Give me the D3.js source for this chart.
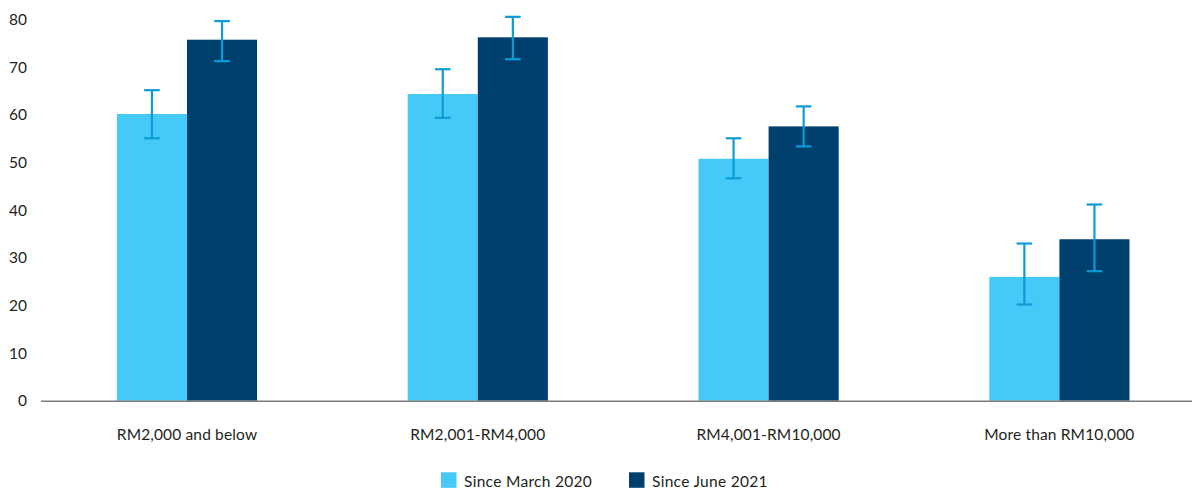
<!DOCTYPE html>
<html>
<head>
<meta charset="utf-8">
<script src="https://cdn.jsdelivr.net/npm/d3@7"></script>
<style>
  html, body { margin: 0; padding: 0; background: #fff; }
  svg { display: block; font-family: Lato, "Noto Sans", sans-serif; }
</style>
</head>
<body>
<svg id="chart" width="1192" height="490"></svg>
<script>
const categories = ["RM2,000 and below", "RM2,001-RM4,000", "RM4,001-RM10,000", "More than RM10,000"];
const seriesNames = ["Since March 2020", "Since June 2021"];
const march2020 = [60.2, 64.4, 50.8, 26.0];
const june2021 = [75.8, 76.3, 57.6, 33.9];
const march2020Low = [55.1, 59.4, 46.7, 20.2];
const march2020High = [65.2, 69.6, 55.1, 33.0];
const june2021Low = [71.3, 71.7, 53.4, 27.2];
const june2021High = [79.7, 80.6, 61.8, 41.2];
const yTicks = [0, 10, 20, 30, 40, 50, 60, 70, 80];
const colors = ["#45c9f6", "#00406f"];
const errColor = "#0b9bd7";

const svg = d3.select("#chart");
const W = 1192;
const y = d3.scaleLinear().domain([0, 80]).range([400.7, 19.7]);
const x0 = d3.scaleBand().domain(categories).range([41.6, 1204.8]).paddingInner(0.518).paddingOuter(0.259);
const x1 = d3.scaleBand().domain(seriesNames).range([0, x0.bandwidth()]);

const values = [march2020, june2021];
const lows = [march2020Low, june2021Low];
const highs = [march2020High, june2021High];

const rows = [];
categories.forEach((c, i) => {
  seriesNames.forEach((s, j) => {
    rows.push({ c, s, j, v: values[j][i], lo: lows[j][i], hi: highs[j][i] });
  });
});

// bars
svg.append("g").selectAll("rect").data(rows).join("rect")
  .attr("x", d => x0(d.c) + x1(d.s))
  .attr("y", d => y(d.v))
  .attr("width", x1.bandwidth())
  .attr("height", d => y(0) - y(d.v))
  .attr("fill", d => colors[d.j]);

// error bars
const eg = svg.append("g").attr("stroke", errColor).attr("stroke-width", 2.2).attr("fill", "none");
rows.forEach(d => {
  const cx = x0(d.c) + x1(d.s) + x1.bandwidth() / 2;
  eg.append("line").attr("x1", cx).attr("x2", cx).attr("y1", y(d.hi)).attr("y2", y(d.lo));
  eg.append("line").attr("x1", cx - 7.8).attr("x2", cx + 7.8).attr("y1", y(d.hi)).attr("y2", y(d.hi));
  eg.append("line").attr("x1", cx - 7.8).attr("x2", cx + 7.8).attr("y1", y(d.lo)).attr("y2", y(d.lo));
});

// y axis labels
const yAxis = d3.axisLeft(y).tickValues(yTicks).tickSize(0).tickPadding(0);
const yg = svg.append("g").attr("transform", "translate(27,0)").call(yAxis);
yg.select(".domain").remove();
yg.selectAll("text").attr("font-size", 15.5).attr("fill", "#231f20").attr("font-family", "Lato, sans-serif");

// x axis baseline
svg.append("line").attr("x1", 41).attr("x2", W).attr("y1", y(0) + 0.5).attr("y2", y(0) + 0.5)
  .attr("stroke", "#7a7a7a").attr("stroke-width", 1.5);

// category labels
const xAxis = d3.axisBottom(x0).tickSize(0).tickPadding(0);
const xg = svg.append("g").attr("transform", "translate(0,429)").call(xAxis);
xg.select(".domain").remove();
xg.selectAll("text").attr("font-size", 15.5).attr("letter-spacing", 0.15).attr("fill", "#231f20").attr("font-family", "Lato, sans-serif");

// legend
const legendX = [441, 629];
const lg = svg.append("g");
seriesNames.forEach((s, j) => {
  lg.append("rect").attr("x", legendX[j]).attr("y", 472.3).attr("width", 15.5).attr("height", 15.5).attr("fill", colors[j]);
  lg.append("text").attr("x", legendX[j] + 23).attr("y", 486.5).attr("font-size", 15.5).attr("letter-spacing", 0.3).attr("fill", "#231f20").text(s);
});
</script>
</body>
</html>
